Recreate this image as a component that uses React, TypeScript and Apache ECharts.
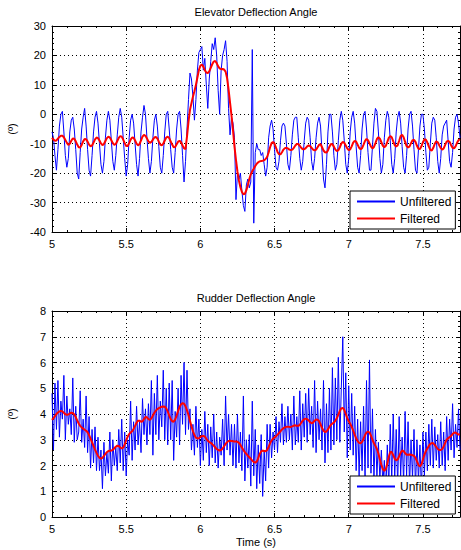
import React, { useEffect, useRef } from "react";
import * as echarts from "echarts";

// time base: samples every 0.01 s starting at 5.00 s
const T_START = 5;
const T_STEP = 0.01;

const elevatorUnfiltered = [
  -6, -8, -14, -19, -12, -4, 0, 1, -6, -14,
  -18, -15, -6, -2, -1, -5, -12, -20, -22, -13,
  -5, -1, 2, -4, -12, -19, -21, -14, -6, -1,
  1, -3, -10, -17, -20, -16, -8, -2, 1, -2,
  -9, -16, -19, -14, -7, -1, 2, -1, -8, -15,
  -21, -17, -8, -2, 0, -3, -10, -17, -21, -15,
  -6, -1, 3, 0, -8, -15, -20, -16, -8, -2,
  0, -4, -11, -18, -20, -14, -6, 0, 1, -5,
  -12, -18, -20, -13, -5, 0, 1, -5, -14, -23,
  -16, -5, 5, 14, 12, 6, -2, 5, 15, 21,
  22, 23, 15, 19, 10, 2, 12, 18, 24, 22,
  26, 20, 8, 0, 15, 20, 22, 25, 18, 2,
  -7, -1, -3, -8, -29, -20, -22, -20, -26, -31,
  -33, -24, -22, -25, -23, 22, -37, -13, -10, -12,
  -12, -14, -13, -17, -21, -18, -8, -4, -2, -5,
  -12, -18, -19, -16, -9, -4, -3, -4, -10, -17,
  -19, -14, -7, -2, -1, -1, -8, -15, -19, -16,
  -9, -3, -1, -2, -8, -16, -19, -15, -8, -3,
  -1, -4, -13, -22, -25, -17, -6, 0, 0, -6,
  -14, -19, -17, -9, -2, 1, -2, -9, -17, -20,
  -15, -6, -1, 1, -3, -11, -18, -20, -14, -5,
  0, 1, -5, -13, -19, -19, -11, -3, 2, 1,
  -6, -15, -20, -17, -8, -2, 1, -1, -9, -17,
  -20, -15, -6, -1, 1, -3, -11, -18, -20, -14,
  -5, 0, 1, -4, -12, -19, -20, -12, -4, 0,
  0, -5, -13, -19, -18, -10, -3, -1, -2, -8,
  -16, -20, -15, -7, -4, -3, -2, -9, -16, -18,
  -13, -5, -1, 0, -3, -8,
];

const elevatorFiltered = [
  -8.0, -8.6, -9.0, -8.9, -8.3, -7.7, -7.3, -7.3, -7.8, -8.7,
  -9.7, -10.4, -10.0, -9.0, -8.2, -8.3, -9.2, -10.3, -11.2, -11.3,
  -10.4, -9.2, -8.4, -8.5, -9.3, -10.3, -10.9, -10.6, -9.6, -8.5,
  -7.9, -8.1, -8.9, -9.9, -10.5, -10.1, -9.1, -8.1, -7.6, -7.9,
  -8.8, -9.8, -10.4, -10.1, -9.1, -8.0, -7.4, -7.6, -8.6, -9.8,
  -10.8, -10.8, -9.8, -8.6, -7.9, -8.0, -8.9, -10.0, -10.6, -10.1,
  -8.9, -7.6, -7.0, -7.3, -8.2, -9.2, -9.7, -9.4, -8.6, -7.9,
  -7.7, -8.2, -9.3, -10.3, -10.6, -10.0, -8.9, -7.9, -7.6, -8.1,
  -9.2, -10.3, -11.2, -11.1, -10.2, -9.3, -9.0, -9.5, -10.6, -11.6,
  -11.8, -7.5, -2.5, 1.5, 3.8, 6.0, 7.8, 10.0, 12.5, 15.0,
  16.5, 16.9, 16.2, 15.0, 14.2, 14.0, 14.6, 15.8, 17.0, 17.9,
  18.1, 17.4, 16.3, 15.6, 15.3, 15.4, 15.2, 14.5, 12.3, 8.5,
  4.0, -0.5, -5.5, -11.0, -15.5, -19.5, -22.5, -24.8, -26.4, -27.2,
  -27.0, -25.8, -24.0, -22.0, -20.4, -19.3, -18.5, -17.6, -16.8, -16.3,
  -16.0, -15.9, -15.8, -15.6, -15.2, -14.5, -13.0, -11.2, -9.8, -9.4,
  -10.0, -11.4, -12.8, -13.6, -13.6, -12.9, -12.0, -11.5, -11.4, -11.6,
  -12.0, -12.2, -12.0, -11.4, -10.6, -10.1, -10.1, -10.7, -11.4, -11.9,
  -11.9, -11.5, -10.9, -10.6, -10.8, -11.4, -12.0, -12.3, -12.0, -11.2,
  -10.4, -10.1, -11.2, -12.3, -12.9, -13.0, -12.3, -11.0, -10.1, -10.2,
  -11.0, -12.0, -12.5, -12.2, -11.2, -10.0, -9.4, -9.7, -10.6, -11.6,
  -12.2, -11.9, -10.9, -9.6, -9.0, -9.3, -10.3, -11.4, -11.9, -11.5,
  -10.3, -9.0, -8.4, -8.8, -9.9, -11.0, -11.6, -11.1, -9.8, -8.4,
  -7.8, -8.3, -9.5, -10.7, -11.2, -10.7, -9.4, -8.0, -7.4, -7.8,
  -9.2, -10.5, -11.0, -10.5, -9.0, -7.4, -7.0, -7.8, -9.4, -10.8,
  -11.3, -10.9, -9.8, -8.8, -8.7, -9.4, -10.7, -11.7, -11.8, -10.9,
  -9.5, -8.6, -8.6, -9.6, -11.0, -12.1, -12.3, -11.4, -10.0, -9.2,
  -9.5, -10.5, -11.5, -12.0, -11.6, -10.4, -9.3, -9.0, -9.4, -10.5,
  -11.4, -11.6, -10.9, -9.7, -8.8, -8.5,
];

const rudderUnfiltered = [
  4.8, 2.6, 5.2, 3.4, 5.3, 3.1, 4.5, 3.8, 5.5, 3.0,
  4.7, 3.6, 4.2, 3.2, 5.4, 2.9, 4.3, 3.0, 3.3, 4.9,
  2.9, 3.8, 2.7, 4.7, 2.5, 3.9, 1.9, 3.4, 2.1, 3.5,
  1.8, 3.1, 1.8, 2.6, 1.1, 2.9, 1.6, 2.5, 1.7, 3.3,
  1.4, 3.0, 2.0, 2.7, 1.8, 3.4, 2.1, 3.8, 1.8, 3.3,
  1.6, 3.0, 2.4, 4.5, 2.2, 3.7, 2.6, 4.3, 2.8, 3.7,
  2.5, 4.6, 3.2, 4.2, 2.8, 4.4, 3.2, 5.3, 2.4, 4.8,
  3.2, 5.5, 3.0, 4.5, 3.5, 5.7, 3.0, 5.0, 2.8, 5.2,
  3.0, 5.3, 2.2, 4.1, 3.1, 5.0, 2.8, 5.5, 3.6, 6.0,
  3.2, 5.7, 3.4, 4.2, 2.6, 3.6, 2.4, 4.3, 2.7, 3.8,
  2.0, 3.4, 2.2, 4.1, 2.5, 3.6, 2.0, 3.5, 2.3, 4.0,
  2.1, 3.3, 1.9, 3.1, 2.4, 3.8, 2.0, 4.7, 2.6, 4.0,
  2.4, 3.6, 2.0, 3.6, 1.9, 4.0, 2.1, 3.3, 1.8, 4.7,
  1.4, 3.0, 1.9, 3.2, 1.2, 4.5, 1.6, 3.4, 1.1, 2.8,
  1.3, 3.2, 0.8, 2.6, 1.4, 3.6, 1.9, 3.6, 2.3, 3.3,
  2.6, 3.9, 2.5, 3.7, 2.9, 4.4, 2.8, 3.9, 2.9, 4.3,
  3.0, 4.0, 2.6, 4.7, 2.8, 3.9, 2.9, 4.9, 2.6, 4.4,
  3.1, 4.8, 2.9, 5.0, 3.2, 4.3, 2.7, 5.3, 2.5, 4.5,
  3.0, 4.2, 2.6, 5.3, 2.1, 4.4, 2.5, 5.0, 2.6, 5.8,
  2.8, 5.4, 3.0, 6.2, 2.9, 5.0, 7.0, 3.3, 5.6, 2.3,
  5.1, 2.6, 4.8, 2.4, 4.3, 1.8, 3.8, 1.6, 3.7, 1.8,
  4.3, 1.5, 5.3, 1.9, 6.1, 1.7, 4.2, 1.5, 3.4, 1.6,
  2.9, 1.5, 2.6, 1.3, 2.2, 0.9, 2.8, 1.2, 3.6, 1.4,
  4.0, 1.5, 3.4, 1.2, 3.9, 1.6, 3.1, 1.3, 4.1, 1.6,
  3.7, 1.2, 3.0, 1.5, 3.4, 1.1, 3.0, 1.4, 2.8, 1.0,
  3.3, 1.6, 3.3, 1.8, 3.6, 2.0, 3.8, 1.9, 3.5, 2.2,
  3.2, 1.9, 3.7, 2.0, 3.3, 1.8, 3.9, 2.2, 3.8, 2.6,
  4.4, 2.3, 3.6, 2.7, 4.2, 2.6,
];

const rudderFiltered = [
  3.77, 3.84, 3.92, 4.0, 4.06, 4.1, 4.12, 4.1, 4.05, 3.99,
  3.97, 3.98, 4.02, 4.05, 4.04, 3.98, 3.88, 3.75, 3.63, 3.54,
  3.48, 3.43, 3.39, 3.35, 3.29, 3.18, 3.04, 2.9, 2.76, 2.62,
  2.49, 2.38, 2.3, 2.27, 2.3, 2.37, 2.45, 2.52, 2.56, 2.57,
  2.58, 2.61, 2.67, 2.73, 2.77, 2.76, 2.7, 2.66, 2.7, 2.82,
  2.98, 3.12, 3.22, 3.28, 3.33, 3.42, 3.54, 3.66, 3.74, 3.74,
  3.7, 3.72, 3.8, 3.88, 3.87, 3.8, 3.77, 3.83, 3.94, 4.05,
  4.13, 4.19, 4.23, 4.26, 4.28, 4.29, 4.28, 4.22, 4.1, 3.94,
  3.8, 3.72, 3.7, 3.78, 3.94, 4.12, 4.28, 4.38, 4.42, 4.4,
  4.3, 4.14, 3.96, 3.74, 3.52, 3.33, 3.18, 3.08, 3.05, 3.06,
  3.1, 3.14, 3.15, 3.12, 3.04, 2.96, 2.91, 2.88, 2.83, 2.77,
  2.7, 2.64, 2.6, 2.58, 2.6, 2.66, 2.75, 2.84, 2.91, 2.95,
  2.96, 2.95, 2.94, 2.93, 2.93, 2.92, 2.88, 2.8, 2.7, 2.6,
  2.52, 2.45, 2.38, 2.32, 2.26, 2.19, 2.13, 2.11, 2.15, 2.28,
  2.45, 2.55, 2.58, 2.56, 2.55, 2.6, 2.72, 2.86, 2.97, 3.04,
  3.09, 3.14, 3.2, 3.26, 3.33, 3.4, 3.45, 3.48, 3.5, 3.51,
  3.5, 3.5, 3.52, 3.55, 3.56, 3.54, 3.54, 3.58, 3.66, 3.74,
  3.8, 3.82, 3.8, 3.75, 3.68, 3.64, 3.67, 3.74, 3.79, 3.78,
  3.72, 3.6, 3.46, 3.35, 3.3, 3.32, 3.4, 3.5, 3.58, 3.63,
  3.67, 3.74, 3.84, 3.98, 4.12, 4.22, 4.24, 4.16, 4.0, 3.84,
  3.72, 3.62, 3.5, 3.36, 3.2, 3.06, 2.95, 2.88, 2.86, 2.92,
  3.04, 3.18, 3.28, 3.32, 3.28, 3.16, 3.0, 2.86, 2.76, 2.64,
  2.46, 2.24, 2.02, 1.86, 1.79, 1.86, 2.08, 2.34, 2.52, 2.52,
  2.4, 2.27, 2.2, 2.24, 2.36, 2.5, 2.58, 2.56, 2.48, 2.42,
  2.42, 2.43, 2.42, 2.4, 2.38, 2.3, 2.16, 2.02, 1.96, 2.04,
  2.22, 2.42, 2.56, 2.66, 2.76, 2.84, 2.87, 2.86, 2.8, 2.72,
  2.64, 2.6, 2.6, 2.64, 2.74, 2.88, 3.0, 3.06, 3.1, 3.15,
  3.22, 3.27, 3.28, 3.24, 3.2, 3.2,
];

const seriesNames = ["Unfiltered", "Filtered"];
const titles = ["Elevator Deflection Angle", "Rudder Deflection Angle"];
const yLabel = "(º)";
const xLabel = "Time (s)";

const FONT = "'Liberation Sans', Arial, Helvetica, sans-serif";

function toPairs(vals: number[]) {
  return vals.map((v, i) => [Number((T_START + i * T_STEP).toFixed(2)), v]);
}

function xAxes(gridIndex: number) {
  const common = {
    type: "value",
    gridIndex,
    min: 5,
    max: 7.75,
    interval: 0.5,
    axisLine: { show: true, onZero: false, lineStyle: { color: "#000", width: 1 } },
    axisTick: { show: true, inside: true, length: 4, lineStyle: { color: "#000", width: 1 } },
    minorTick: { show: true, splitNumber: 5, length: 2, lineStyle: { color: "#000", width: 1 } },
  };
  return [
    {
      ...common,
      position: "bottom",
      axisLabel: { color: "#000", fontSize: 11, fontFamily: FONT, margin: 6, showMaxLabel: false },
      splitLine: { show: true, lineStyle: { color: "#000", width: 1, type: [1, 3] } },
    },
    {
      ...common,
      position: "top",
      axisLabel: { show: false },
      splitLine: { show: false },
    },
  ];
}

function yAxes(gridIndex: number, min: number, max: number, interval: number) {
  const common = {
    type: "value",
    gridIndex,
    min,
    max,
    interval,
    axisLine: { show: true, onZero: false, lineStyle: { color: "#000", width: 1 } },
    axisTick: { show: true, inside: true, length: 4, lineStyle: { color: "#000", width: 1 } },
    minorTick: { show: true, splitNumber: 5, length: 2, lineStyle: { color: "#000", width: 1 } },
  };
  return [
    {
      ...common,
      position: "left",
      axisLabel: { color: "#000", fontSize: 11, fontFamily: FONT, margin: 6 },
      splitLine: { show: true, lineStyle: { color: "#000", width: 1, type: [1, 3] } },
    },
    {
      ...common,
      position: "right",
      axisLabel: { show: false },
      splitLine: { show: false },
    },
  ];
}

function lineSeries(name: string, vals: number[], axisIndex: number, color: string, width: number, z: number) {
  return {
    type: "line",
    name,
    xAxisIndex: axisIndex,
    yAxisIndex: axisIndex,
    data: toPairs(vals),
    showSymbol: false,
    symbol: "none",
    silent: true,
    clip: true,
    z,
    lineStyle: { color, width },
    itemStyle: { color },
  };
}

function legendAt(top: number) {
  return {
    data: seriesNames,
    orient: "vertical",
    left: 350,
    top,
    backgroundColor: "#fff",
    borderColor: "#000",
    borderWidth: 1,
    borderRadius: 0,
    padding: [3, 4, 3, 6],
    itemGap: 2,
    itemWidth: 38,
    itemHeight: 1,
    itemStyle: { opacity: 0, borderWidth: 0 },
    selectedMode: false,
    textStyle: { color: "#000", fontSize: 12, fontFamily: FONT, lineHeight: 15 },
    z: 10,
  };
}

function textEl(text: string, x: number, y: number, rotation = 0) {
  return {
    type: "text",
    x,
    y,
    rotation,
    style: {
      text,
      x: 0,
      y: 0,
      align: "center",
      verticalAlign: "middle",
      fill: "#000",
      font: `11px ${FONT}`,
    },
  };
}

export default function App() {
  const ref = useRef<HTMLDivElement>(null);

  useEffect(() => {
    if (!ref.current) return;
    const chart = echarts.init(ref.current, undefined, { renderer: "svg" });
    const option = {
      animation: false,
      backgroundColor: "#fff",
      grid: [
        { left: 52, right: 1, top: 26, height: 206, containLabel: false },
        { left: 52, right: 1, top: 311, height: 206, containLabel: false },
      ],
      xAxis: [...xAxes(0), ...xAxes(1)],
      yAxis: [...yAxes(0, -40, 30, 10), ...yAxes(1, 0, 8, 1)],
      legend: [legendAt(191), legendAt(476)],
      series: [
        lineSeries(seriesNames[0], elevatorUnfiltered, 0, "#0000ff", 1, 2),
        lineSeries(seriesNames[1], elevatorFiltered, 0, "#ff0000", 2, 3),
        lineSeries(seriesNames[0], rudderUnfiltered, 2, "#0000ff", 1, 2),
        lineSeries(seriesNames[1], rudderFiltered, 2, "#ff0000", 2, 3),
      ],
      graphic: [
        textEl(titles[0], 256, 12),
        textEl(titles[1], 256, 298),
        textEl(xLabel, 256, 542),
        textEl(yLabel, 12, 129, Math.PI / 2),
        textEl(yLabel, 12, 414, Math.PI / 2),
      ],
    };
    chart.setOption(option as any);
    return () => {
      chart.dispose();
    };
  }, []);

  return (
    <div
      ref={ref}
      style={{ position: "fixed", left: 0, top: 0, width: 461, height: 550, background: "#fff" }}
    />
  );
}
